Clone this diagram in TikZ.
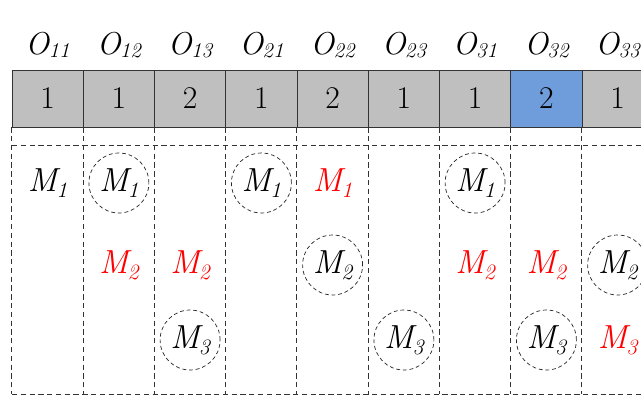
\documentclass[tikz,border=0pt]{standalone}
\usetikzlibrary{positioning}
\definecolor{CellGray}{HTML}{BFBFBF}
\definecolor{CellBlue}{HTML}{6F9CDB}
\newcommand{\opsub}[2]{#1\kern-0.3pt\raisebox{-0.2ex}{\fontsize{12}{14}\selectfont #2}}
\newcommand{\msub}[1]{M\kern-0.5pt\raisebox{-0.4ex}{\fontsize{12.5}{14}\selectfont #1}}
\tikzset{
  cellbox/.style={draw=black!80, fill=CellGray, minimum width=1.425cm, minimum height=1.14cm,
    inner sep=0pt, font=\fontsize{18}{20}\selectfont},
  hotbox/.style={cellbox, fill=CellBlue},
  oplabel/.style={font=\fontsize{18}{20}\selectfont\itshape, inner sep=0pt},
  mach/.style={font=\fontsize{19}{21}\selectfont\itshape, inner sep=0pt, text=black},
  pick/.style={mach, draw=black!85, circle, minimum size=1.2cm, dash pattern=on 2.2pt off 1.6pt},
  idle/.style={mach, text=red},
  gridline/.style={draw=black!80, dash pattern=on 3pt off 2pt, thin}
}

\begin{document}
\begin{tikzpicture}[x=0.02cm, y=-0.02cm]
\clip (0,0) rectangle (641,395);

% Operation labels
\node[oplabel] (o11) at (47.6,45) {\opsub{O}{11}};
\node[oplabel] (o12) at (118.9,45) {\opsub{O}{12}};
\node[oplabel] (o13) at (190.1,45) {\opsub{O}{13}};
\node[oplabel] (o21) at (261.4,45) {\opsub{O}{21}};
\node[oplabel] (o22) at (332.6,45) {\opsub{O}{22}};
\node[oplabel] (o23) at (403.9,45) {\opsub{O}{23}};
\node[oplabel] (o31) at (475.1,45) {\opsub{O}{31}};
\node[oplabel] (o32) at (546.4,45) {\opsub{O}{32}};
\node[oplabel] (o33) at (617.6,45) {\opsub{O}{33}};

% Chromosome cells
\node[cellbox] (c11) at (47.6,98.5) {1};
\node[cellbox] (c12) at (118.9,98.5) {1};
\node[cellbox] (c13) at (190.1,98.5) {2};
\node[cellbox] (c21) at (261.4,98.5) {1};
\node[cellbox] (c22) at (332.6,98.5) {2};
\node[cellbox] (c23) at (403.9,98.5) {1};
\node[cellbox] (c31) at (475.1,98.5) {1};
\node[hotbox] (c32) at (546.4,98.5) {2};
\node[cellbox] (c33) at (617.6,98.5) {1};

% Dashed grid below the cells
\coordinate (rowtop) at (12,145);
\coordinate (base) at (12,394);
\draw[gridline] (rowtop) -- (rowtop -| 660,0);
\draw[gridline] (base) -- (base -| 660,0);
\draw[gridline] (c11.south west) -- (c11.south west |- base);
\draw[gridline] (c12.south west) -- (c12.south west |- base);
\draw[gridline] (c13.south west) -- (c13.south west |- base);
\draw[gridline] (c21.south west) -- (c21.south west |- base);
\draw[gridline] (c22.south west) -- (c22.south west |- base);
\draw[gridline] (c23.south west) -- (c23.south west |- base);
\draw[gridline] (c31.south west) -- (c31.south west |- base);
\draw[gridline] (c32.south west) -- (c32.south west |- base);
\draw[gridline] (c33.south west) -- (c33.south west |- base);
\draw[gridline] (c33.south east) -- (c33.south east |- base);

% Machine sets: circled = chosen, red = alternative
\node[mach] (s11m1) at (47.6,183) {\msub{1}};
\node[pick] (s12m1) at (118.9,183) {\msub{1}};
\node[idle] (s12m2) at (118.9,265) {\msub{2}};
\node[idle] (s13m2) at (190.1,265) {\msub{2}};
\node[pick] (s13m3) at (190.1,340) {\msub{3}};
\node[pick] (s21m1) at (261.4,183) {\msub{1}};
\node[idle] (s22m1) at (332.6,183) {\msub{1}};
\node[pick] (s22m2) at (332.6,265) {\msub{2}};
\node[pick] (s23m3) at (403.9,340) {\msub{3}};
\node[pick] (s31m1) at (475.1,183) {\msub{1}};
\node[idle] (s31m2) at (475.1,265) {\msub{2}};
\node[idle] (s32m2) at (546.4,265) {\msub{2}};
\node[pick] (s32m3) at (546.4,340) {\msub{3}};
\node[pick] (s33m2) at (617.6,265) {\msub{2}};
\node[idle] (s33m3) at (617.6,340) {\msub{3}};
\end{tikzpicture}
\end{document}
